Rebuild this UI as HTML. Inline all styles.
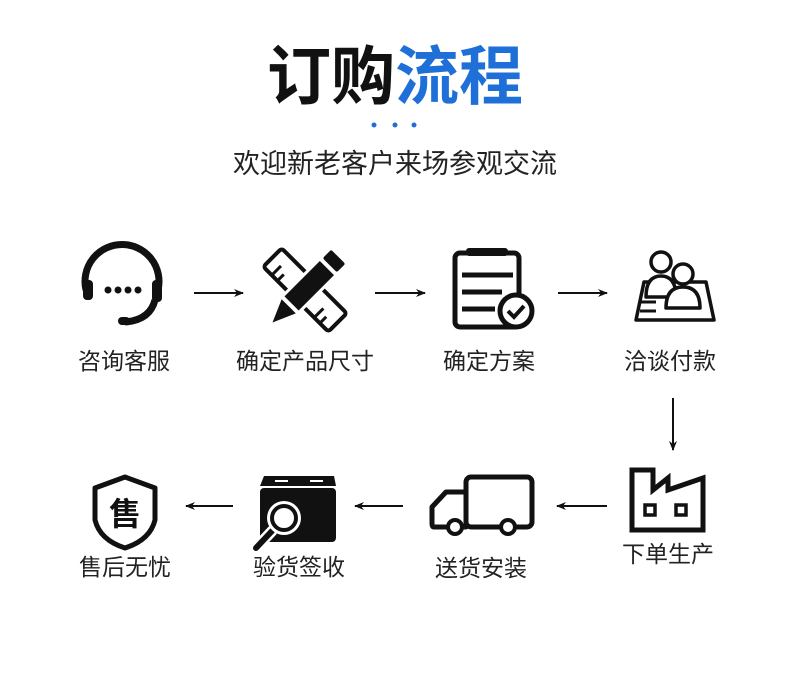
<!DOCTYPE html>
<html><head><meta charset="utf-8"><style>
body{margin:0;background:#fff;width:790px;height:685px;overflow:hidden}
svg{display:block}
text{font-family:"Liberation Sans","Noto Sans CJK SC",sans-serif}
</style></head><body>
<svg width="790" height="685" viewBox="0 0 790 685">
<defs><marker id="ah" markerWidth="10" markerHeight="8" refX="9" refY="4" orient="auto" markerUnits="userSpaceOnUse"><path d="M0,0 L10,4 L0,8 L3,4z" fill="#111"/></marker></defs>
<text x="395" y="99" text-anchor="middle" font-size="64" font-weight="bold"><tspan fill="#111">订购</tspan><tspan fill="#1f6fd8">流程</tspan></text>
<circle cx="374" cy="125" r="2.5" fill="#1f6fd8"/><circle cx="395" cy="125" r="2.5" fill="#1f6fd8"/><circle cx="414" cy="125" r="2.5" fill="#1f6fd8"/>
<text x="395" y="173" text-anchor="middle" font-size="27" fill="#222">欢迎新老客户来场参观交流</text>

<g font-size="23" fill="#222" text-anchor="middle">
<text x="124" y="369">咨询客服</text><text x="305" y="369">确定产品尺寸</text><text x="489" y="369">确定方案</text><text x="670" y="369">洽谈付款</text>
<text x="125" y="575">售后无忧</text><text x="299" y="575">验货签收</text><text x="481" y="576">送货安装</text><text x="668" y="562">下单生产</text>
</g>

<g stroke="#111" stroke-width="2" fill="none" marker-end="url(#ah)">
<line x1="194" y1="293" x2="243" y2="293"/><line x1="375" y1="293" x2="425" y2="293"/><line x1="558" y1="293" x2="607" y2="293"/>
<line x1="673" y1="398" x2="673" y2="450"/>
<line x1="607" y1="506" x2="557" y2="506"/><line x1="403" y1="506" x2="355" y2="506"/><line x1="233" y1="506" x2="186" y2="506"/>
</g>

<!-- headset -->
<g stroke="#111" fill="none" stroke-width="7">
<path d="M86,290 A37,37 0 1 1 158,290"/>
<path d="M155,300 Q150,320 125,322"/>
</g>
<rect x="83" y="280" width="10" height="20" rx="4" fill="#111"/><rect x="152" y="280" width="10" height="22" rx="4" fill="#111"/>
<rect x="118" y="317" width="12" height="8" rx="4" fill="#111"/>
<g fill="#111"><circle cx="108" cy="290" r="3.5"/><circle cx="118" cy="290" r="3.5"/><circle cx="128" cy="290" r="3.5"/><circle cx="138" cy="290" r="3.5"/></g>

<!-- ruler & pencil -->
<g transform="translate(305,290) rotate(-45)">
<rect x="-13" y="-46" width="26" height="92" rx="3" fill="#fff" stroke="#111" stroke-width="4"/>
<g stroke="#111" stroke-width="3"><line x1="-13" y1="-34" x2="0" y2="-34"/><line x1="-13" y1="-26" x2="-4" y2="-26"/><line x1="-13" y1="26" x2="0" y2="26"/><line x1="-13" y1="34" x2="-4" y2="34"/></g>
</g>
<g transform="translate(305,290) rotate(45)">
<rect x="-13" y="-50" width="26" height="100" fill="#fff"/>
<rect x="-10" y="-47" width="20" height="12" rx="2" fill="#111"/>
<rect x="-10" y="-31" width="20" height="50" fill="#111"/>
<path d="M-10,23 L10,23 L0,46z" fill="#111"/>
</g>

<!-- clipboard -->
<rect x="455" y="253" width="64" height="74" rx="5" fill="none" stroke="#111" stroke-width="5"/>
<rect x="466" y="248" width="42" height="8" rx="3" fill="#111"/>
<g stroke="#111" stroke-width="5"><line x1="462" y1="275" x2="513" y2="275"/><line x1="462" y1="292" x2="502" y2="292"/><line x1="462" y1="309" x2="495" y2="309"/></g>
<circle cx="516" cy="311" r="16" fill="#fff" stroke="#111" stroke-width="5"/>
<path d="M508,311 L514,317 L524,306" stroke="#111" stroke-width="4" fill="none"/>

<!-- negotiation -->
<g stroke="#111" stroke-width="3.5" fill="#fff" stroke-linejoin="round">
<path d="M636,320 L644,282 L706,282 L714,320z"/>
<path d="M646,297 Q646,276 661,276 Q676,276 676,297z"/>
<circle cx="661" cy="262" r="10"/>
<path d="M666,308 Q666,287 683,287 Q700,287 700,308z"/>
<circle cx="683" cy="274" r="10"/>
</g>
<g stroke="#111" stroke-width="3"><line x1="640" y1="302" x2="656" y2="302"/><line x1="640" y1="311" x2="656" y2="311"/></g>

<!-- factory -->
<path d="M632,530 L632,470 L653,470 L653,490 L668,478 L668,490 L703,478 L703,530z" fill="none" stroke="#111" stroke-width="5"/>
<rect x="645" y="505" width="10" height="10" fill="none" stroke="#111" stroke-width="3.5"/>
<rect x="676" y="505" width="10" height="10" fill="none" stroke="#111" stroke-width="3.5"/>

<!-- truck -->
<path d="M466,527 L434,527 Q432,527 432,523 L432,507 L446,492 L466,492 z" fill="none" stroke="#111" stroke-width="5" stroke-linejoin="round"/>
<rect x="466" y="477" width="66" height="50" rx="5" fill="none" stroke="#111" stroke-width="5"/>
<circle cx="455" cy="527" r="7" fill="#fff" stroke="#111" stroke-width="4"/>
<circle cx="508" cy="527" r="7" fill="#fff" stroke="#111" stroke-width="4"/>

<!-- box with magnifier -->
<path d="M264,476 L334,476 L336,486 L260,486z" fill="#111"/>
<g stroke="#fff" stroke-width="2"><line x1="275" y1="481" x2="288" y2="481"/><line x1="310" y1="481" x2="323" y2="481"/></g>
<rect x="260" y="488" width="76" height="54" rx="4" fill="#111"/>
<line x1="272" y1="531" x2="256" y2="548" stroke="#fff" stroke-width="11" stroke-linecap="round"/>
<line x1="272" y1="531" x2="256" y2="548" stroke="#111" stroke-width="6" stroke-linecap="round"/>
<circle cx="284" cy="518" r="17" fill="#fff"/>
<circle cx="284" cy="518" r="12" fill="#fff" stroke="#111" stroke-width="4"/>

<!-- shield -->
<path d="M125,477 L155,488 L155,520 Q150,540 125,548 Q100,540 95,520 L95,488z" fill="none" stroke="#111" stroke-width="5" stroke-linejoin="round"/>
<text x="125" y="525" text-anchor="middle" font-size="32" font-weight="bold" fill="#111">售</text>
</svg>
</body></html>
